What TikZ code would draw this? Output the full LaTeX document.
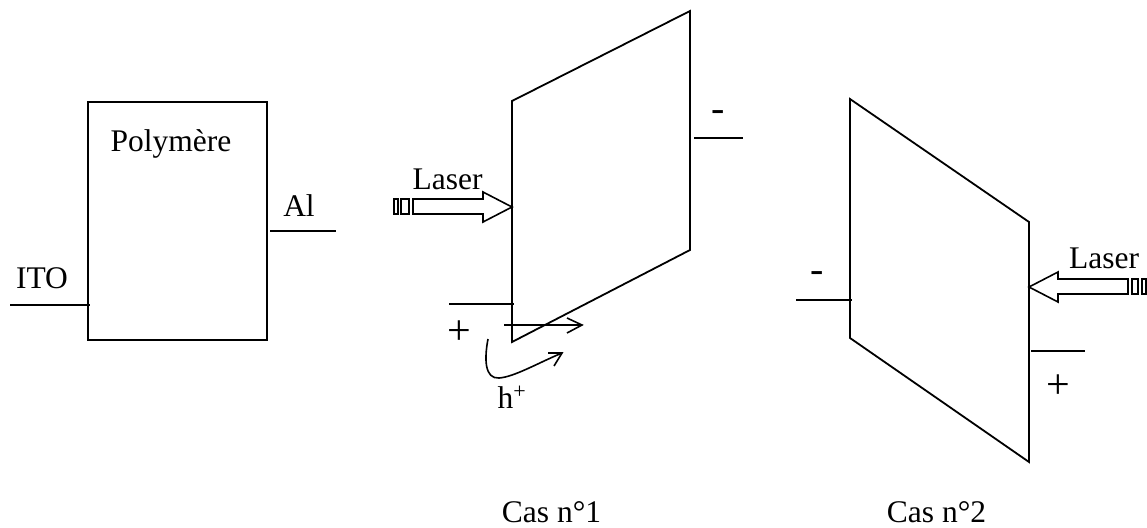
\documentclass[tikz,border=0pt]{standalone}
\usepackage{fontspec}
\setmainfont{Liberation Serif}
\usepackage{tikz}
\usetikzlibrary{arrows.meta,positioning,calc}

\tikzset{
  trait/.style={line width=1.8pt, black},
  fin/.style={line width=1.6pt, black},
  lbl/.style={font=\fontsize{31.5}{34}\selectfont, inner sep=0pt, anchor=base},
  signe/.style={font=\fontsize{42}{44}\selectfont, inner sep=0pt, anchor=base}
}

\begin{document}
\begin{tikzpicture}[x=1pt,y=-1pt]
\useasboundingbox (0,0) rectangle (1147,527);
% echantillon
\node[draw, trait, minimum width=179pt, minimum height=238pt, inner sep=0pt, outer sep=0pt] (poly) at (177.5,221) {};
\node[lbl] (lpoly) at (171,151) {Polymère};
\coordinate (itoa) at (10,305);
\coordinate (itob) at (90,305);
\draw[trait] (itoa) -- (itob);
\node[lbl] (lito) at (42,288) {ITO};
\coordinate (ala) at (270,231);
\coordinate (alb) at (336,231);
\draw[trait] (ala) -- (alb);
\node[lbl] (lal) at (299,216) {Al};
% cas 1
\draw[trait] (512,101) -- (690,11) -- (690,250) -- (512,342) -- cycle;
\coordinate (moinsa) at (694,138);
\coordinate (moinsb) at (743,138);
\draw[trait] (moinsa) -- (moinsb);
\node[signe, font=\fontsize{40}{42}\selectfont] (lmoinsa) at (718,121) {-};
\coordinate (plusa) at (449,304);
\coordinate (plusb) at (514,304);
\draw[trait] (plusa) -- (plusb);
\node[signe] (lplusa) at (459,344) {+};
\draw[fin, fill=white] (413,199) -- (483,199) -- (483,192) -- (512,207) -- (483,222) -- (483,214) -- (413,214) -- cycle;
\draw[fin] (394,199) rectangle (398,214);
\draw[fin] (401,199) rectangle (409,214);
\node[lbl] (llasera) at (447.5,189) {Laser};
\coordinate (ha) at (504,325);
\coordinate (hb) at (582,325);
\draw[fin] (ha) -- (hb);
\draw[fin] (567,318) -- (hb) -- (567,333);
\coordinate (cb) at (562,353);
\draw[fin] (488,339) .. controls (484,360) and (485,379) .. (499,378) .. controls (514,377) and (538,363) .. (cb);
\draw[fin] (548,353) -- (cb) -- (554,366);
\node[lbl] (lh) at (512,408) {h\textsuperscript{+}};
\node[lbl] (lcasa) at (551.5,522) {Cas n°1};
% cas 2
\draw[trait] (850,99) -- (1029,222) -- (1029,462) -- (850,338) -- cycle;
\coordinate (moinsc) at (796,300);
\coordinate (moinsd) at (852,300);
\draw[trait] (moinsc) -- (moinsd);
\node[signe, font=\fontsize{40}{42}\selectfont] (lmoinsb) at (817.5,282) {-};
\coordinate (plusc) at (1031,351);
\coordinate (plusd) at (1085,351);
\draw[trait] (plusc) -- (plusd);
\node[signe] (lplusb) at (1058,398) {+};
\draw[fin, fill=white] (1128,279) -- (1058,279) -- (1058,272) -- (1029,287) -- (1058,302) -- (1058,294) -- (1128,294) -- cycle;
\draw[fin] (1132,279) rectangle (1138,294);
\draw[fin] (1142,279) rectangle (1146,294);
\node[lbl] (llaserb) at (1104,268) {Laser};
\node[lbl] (lcasb) at (936.5,522) {Cas n°2};
\end{tikzpicture}
\end{document}
